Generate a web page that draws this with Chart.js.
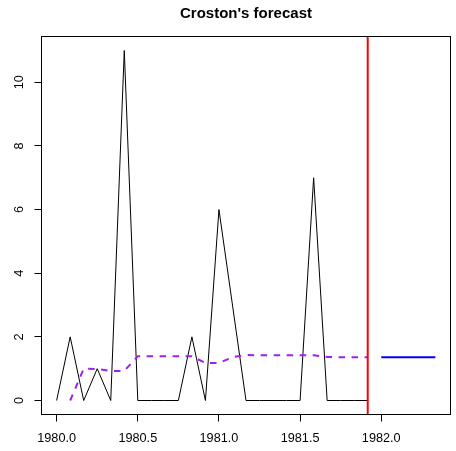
<!DOCTYPE html>
<html lang="en">
<head>
<meta charset="UTF-8" />
<title>Croston's forecast</title>
<script src="https://cdn.jsdelivr.net/npm/chart.js"></script>
<style>
  html, body { margin: 0; padding: 0; background: #fff; }
  #wrap { width: 456px; height: 451px; }
</style>
</head>
<body>
<div id="wrap"><canvas id="crostonChart" width="456" height="451"></canvas></div>
<script>
// monthly series, starts 1980 Jan
const tsStart = 1980;
const tsFreq = 12;
const demand = [0, 2, 0, 1, 0, 11, 0, 0, 0, 0, 2, 0, 6, 3, 0, 0, 0, 0, 0, 7, 0, 0, 0, 0];
const fitted = [null, 0, 1.0, 0.99, 0.93, 0.93, 1.39, 1.39, 1.39, 1.39, 1.39, 1.18, 1.18, 1.36, 1.43, 1.42, 1.42, 1.42, 1.42, 1.42, 1.37, 1.36, 1.36, 1.36];
const forecast = [1.36, 1.36, 1.36, 1.36, 1.36];
const xTicks = [1980.0, 1980.5, 1981.0, 1981.5, 1982.0];
const yTicks = [0, 2, 4, 6, 8, 10];

const FONT = '"Liberation Sans", Arial, Helvetica, sans-serif';

const toPoints = (vals, offset) => vals.map((v, i) => ({ x: tsStart + (i + offset) / tsFreq, y: v }));

// R style axis limits: data range + 4% each side
const xLo = tsStart, xHi = tsStart + (demand.length + forecast.length - 1) / tsFreq;
const yLo = 0, yHi = Math.max(...demand);
const xPad = (xHi - xLo) * 0.04, yPad = (yHi - yLo) * 0.04;
const splitAt = tsStart + (demand.length - 1) / tsFreq;

// box round the plot + rotated y labels like base graphics
const rFrame = {
  id: 'rFrame',
  afterDraw(chart) {
    const { ctx, chartArea: a, scales: { y } } = chart;
    ctx.save();
    ctx.strokeStyle = '#000';
    ctx.lineWidth = 1;
    ctx.strokeRect(a.left, a.top, a.right - a.left, a.bottom - a.top);
    ctx.fillStyle = '#000';
    ctx.font = '12.7px ' + FONT;
    ctx.textAlign = 'center';
    ctx.textBaseline = 'middle';
    y.ticks.forEach(t => {
      ctx.save();
      ctx.translate(19, y.getPixelForValue(t.value));
      ctx.rotate(-Math.PI / 2);
      ctx.fillText(String(t.value), 0, 0);
      ctx.restore();
    });
    ctx.restore();
  }
};

new Chart(document.getElementById('crostonChart').getContext('2d'), {
  type: 'line',
  data: {
    datasets: [
      { label: 'demand', data: toPoints(demand, 0), borderColor: '#000', borderWidth: 1, order: 4 },
      { label: 'fitted', data: toPoints(fitted, 0), borderColor: '#A020F0', borderWidth: 2, borderDash: [6.5, 6.5], order: 3 },
      { label: 'forecast', data: toPoints(forecast, demand.length), borderColor: '#0000FF', borderWidth: 2, order: 2 },
      { label: 'split', data: [{ x: splitAt, y: yLo - yPad }, { x: splitAt, y: yHi + yPad }], borderColor: '#FF0000', borderWidth: 2, order: 1 }
    ]
  },
  options: {
    responsive: false,
    animation: false,
    devicePixelRatio: 1,
    elements: { point: { radius: 0 }, line: { tension: 0, fill: false } },
    layout: { padding: { left: 0, right: 5.5, top: 0, bottom: 0 } },
    plugins: {
      legend: { display: false },
      tooltip: { enabled: false },
      title: {
        display: true,
        text: "Croston's forecast",
        fullSize: false,
        color: '#000',
        font: { family: FONT, size: 15, weight: 'bold', lineHeight: 1.2 },
        padding: { top: 5, bottom: 13.5 }
      }
    },
    scales: {
      x: {
        type: 'linear',
        min: xLo - xPad,
        max: xHi + xPad,
        afterBuildTicks: s => { s.ticks = xTicks.map(v => ({ value: v })); },
        afterFit: s => { s.height = 36.5; },
        ticks: {
          color: '#000',
          font: { family: FONT, size: 12.7 },
          padding: 9,
          maxRotation: 0,
          callback: v => Number(v).toFixed(1)
        },
        grid: { drawOnChartArea: false, drawTicks: true, tickLength: 7, color: '#000', lineWidth: 1 },
        border: { display: false }
      },
      y: {
        min: yLo - yPad,
        max: yHi + yPad,
        afterBuildTicks: s => { s.ticks = yTicks.map(v => ({ value: v })); },
        afterFit: s => { s.width = 41.5; },
        ticks: { display: false },
        grid: { drawOnChartArea: false, drawTicks: true, tickLength: 7, color: '#000', lineWidth: 1 },
        border: { display: false }
      }
    }
  },
  plugins: [rFrame]
});
</script>
</body>
</html>
